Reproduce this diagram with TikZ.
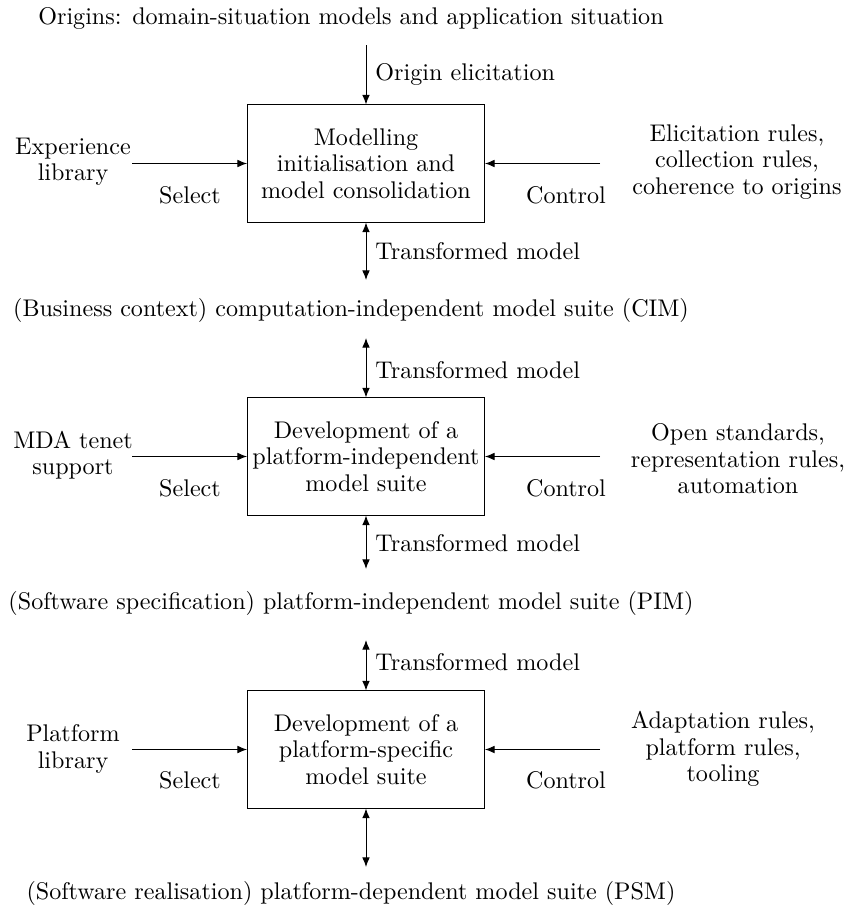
\documentclass[tikz,border=0pt]{standalone}
\usetikzlibrary{arrows.meta}
\begin{document}
\begin{tikzpicture}[x=0.4149pt,y=-0.4149pt,
  every node/.style={font=\fontsize{10}{11}\selectfont},
  proc/.style={draw,rectangle,minimum width=98.3pt,minimum height=48.6pt,inner sep=0pt,align=center},
  lbl/.style={inner sep=0pt,align=center},
  arr/.style={-{Latex[length=4pt,width=3.2pt]}},
  biarr/.style={{Latex[length=4pt,width=3.2pt]}-{Latex[length=4pt,width=3.2pt]}}]
\useasboundingbox (0,0) rectangle (850,913);

% stage 1
\node[lbl] (t0) at (351,18) {Origins: domain-situation models and application situation};
\node[proc] (b1) at (366,163.5) {Modelling\\initialisation and\\model consolidation};
\coordinate (o1) at (366,45);
\coordinate (l1) at (132,163.5);
\coordinate (r1) at (600,163.5);
\coordinate (s1) at (366,280);
\draw[arr] (o1) -- (b1.north);
\draw[arr] (l1) -- (b1.west);
\draw[arr] (r1) -- (b1.east);
\draw[biarr] (b1.south) -- (s1);
\node[lbl,anchor=west] (oe) at (375,74) {Origin elicitation};
\node[lbl] (ex) at (73,162) {Experience\\library};
\node[lbl] (se1) at (190,195) {Select};
\node[lbl] (co1) at (566,195) {Control};
\node[lbl] (ru1) at (737,162) {Elicitation rules,\\collection rules,\\coherence to origins};
\node[lbl,anchor=west] (tm1) at (375,251) {Transformed model};

% stage 2
\node[lbl] (t1) at (351,310) {(Business context) computation-independent model suite (CIM)};
\node[proc] (b2) at (366,456.5) {Development of a\\platform-independent\\model suite};
\coordinate (o2) at (366,338);
\coordinate (l2) at (132,456.5);
\coordinate (r2) at (600,456.5);
\coordinate (s2) at (366,569);
\draw[biarr] (o2) -- (b2.north);
\draw[arr] (l2) -- (b2.west);
\draw[arr] (r2) -- (b2.east);
\draw[biarr] (b2.south) -- (s2);
\node[lbl,anchor=west] (tm2) at (375,370) {Transformed model};
\node[lbl] (md) at (73,455) {MDA tenet\\support};
\node[lbl] (se2) at (190,488) {Select};
\node[lbl] (co2) at (566,488) {Control};
\node[lbl] (ru2) at (738,459) {Open standards,\\representation rules,\\automation};
\node[lbl,anchor=west] (tm3) at (375,543) {Transformed model};

% stage 3
\node[lbl] (t2) at (351,603) {(Software specification) platform-independent model suite (PIM)};
\node[proc] (b3) at (366,749.5) {Development of a\\platform-specific\\model suite};
\coordinate (o3) at (366,640);
\coordinate (l3) at (132,749.5);
\coordinate (r3) at (600,749.5);
\coordinate (s3) at (366,867);
\draw[biarr] (o3) -- (b3.north);
\draw[arr] (l3) -- (b3.west);
\draw[arr] (r3) -- (b3.east);
\draw[biarr] (b3.south) -- (s3);
\node[lbl,anchor=west] (tm4) at (375,662) {Transformed model};
\node[lbl] (pl) at (73,749) {Platform\\library};
\node[lbl] (se3) at (190,780) {Select};
\node[lbl] (co3) at (566,780) {Control};
\node[lbl] (ru3) at (723,749) {Adaptation rules,\\platform rules,\\tooling};
\node[lbl] (t3) at (351,893) {(Software realisation) platform-dependent model suite (PSM)};
\end{tikzpicture}
\end{document}
